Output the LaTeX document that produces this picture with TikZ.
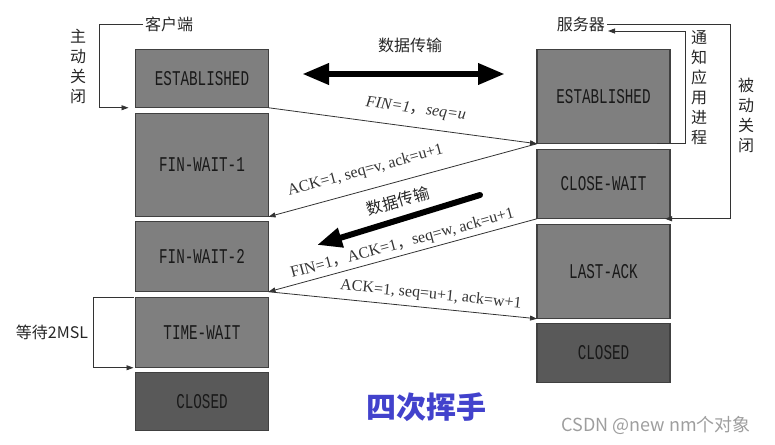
\documentclass[tikz,border=0pt]{standalone}
\usepackage{fontspec}
\usetikzlibrary{arrows.meta,positioning}
\newfontfamily\cjk{Noto Sans CJK SC}
\newfontfamily\boxfont{Liberation Mono}[FakeStretch=0.68]
\newfontfamily\msgfont{Liberation Serif}
\definecolor{boxgray}{RGB}{127,127,127}
\definecolor{boxdark}{RGB}{89,89,89}
\definecolor{boxedge}{RGB}{64,64,64}
\definecolor{titleblue}{RGB}{66,66,204}
\tikzset{
  state/.style={draw=boxedge, fill=boxgray, line width=1.2pt, minimum width=133pt,
    inner sep=0pt, outer sep=0pt, text=black!90, font=\boxfont\fontsize{21}{21}\selectfont},
  closed/.style={state, fill=boxdark},
  conn/.style={draw=black!80, line width=0.8pt, -{Triangle[length=7pt,width=5pt]}},
  msg/.style={text=black!80, font=\msgfont\fontsize{16}{16}\selectfont},
  cn/.style={text=black!85, font=\cjk\fontsize{16}{16}\selectfont},
  vtext/.style={cn, align=center, font=\cjk\fontsize{16}{20}\selectfont},
  bigarrow/.style={line width=6.5pt, {Triangle[length=27pt,width=20pt]}-{Triangle[length=27pt,width=20pt]}}
}
\begin{document}
\begin{tikzpicture}[x=1pt,y=-1pt]
  \useasboundingbox (0,0) rectangle (775,444);

  % client
  \node[state, minimum height=58.5pt] (cest) at (202,78.5) {ESTABLISHED};
  \node[state, minimum height=103.5pt] (cfw1) at (202,165) {FIN-WAIT-1};
  \node[state, minimum height=70.5pt] (cfw2) at (202,256.5) {FIN-WAIT-2};
  \node[state, minimum height=70.5pt] (ctw) at (202,332.5) {TIME-WAIT};
  \node[closed, minimum height=58.5pt] (ccl) at (202,401.5) {CLOSED};

  % server
  \node[state, minimum height=94.5pt] (sest) at (603.5,96.5) {ESTABLISHED};
  \node[state, minimum height=69.5pt] (scw) at (603.5,184) {CLOSE-WAIT};
  \node[state, minimum height=94.5pt] (sla) at (603.5,271.5) {LAST-ACK};
  \node[closed, minimum height=59.5pt] (scl) at (603.5,353) {CLOSED};

  % messages
  \draw[conn] (cest.south east) -- node[msg, sloped, above=7pt, pos=0.54] (m1) {\textit{FIN=1}{\cjk ，}\textit{seq=u}} (sest.south west);
  \draw[conn] (sest.south west) -- node[msg, sloped, above=8pt, pos=0.62] (m2) {ACK=1, seq=v, ack=u+1} (cfw1.south east);
  \draw[conn] (scw.south west) -- node[msg, sloped, above, pos=0.49] (m3) {FIN=1{\cjk ，}ACK=1{\cjk ，}seq=w, ack=u+1} (cfw2.south east);
  \draw[conn] (cfw2.south east) -- node[msg, sloped, above=2pt, pos=0.6] (m4) {ACK=1, seq=u+1, ack=w+1} (sla.south west);

  % data transfer
  \coordinate (dl) at (302,74);
  \coordinate (dr) at (505,74);
  \draw[bigarrow] (dl) -- (dr);
  \node[cn] (data1) at (410,45) {数据传输};
  \coordinate (ds) at (480,195);
  \coordinate (de) at (317,245);
  \draw[line width=6pt, line cap=round, -{Triangle[length=25pt,width=19pt]}] (ds) -- (de);
  \node[cn, rotate=16] (data2) at (398,201) {数据传输};

  % client close
  \node[cn, anchor=west, inner sep=2pt] (cli) at (143,24) {客户端};
  \draw[conn] (cli.west) -- ++(-44,0) |- ([xshift=-7pt]cest.south west);
  \node[vtext] (active) at (78,66) {主\\动\\关\\闭};
  \node[cn] (wait) at (52,332) {等待2MSL};
  \draw[conn] ([xshift=-2pt]ctw.north west) -- ++(-40,0) |- ([xshift=-2pt]ctw.south west);

  % server close
  \node[cn, anchor=east, inner sep=2pt] (srv) at (607,24) {服务器};
  \coordinate (srvin) at (608,31);
  \draw[conn] ([xshift=-13pt]sest.south east) -- ++(28,0) |- (srvin);
  \node[vtext] (notify) at (699,88) {通\\知\\应\\用\\进\\程};
  \draw[conn] (srv.east) -- ++(123,0) |- ([xshift=-5pt]scw.south east);
  \node[vtext] (passive) at (746,115) {被\\动\\关\\闭};

  \node[text=titleblue, font=\cjk\bfseries\fontsize{30}{30}\selectfont] (title) at (426,407) {四次挥手};
  \node[text=black!38, font=\cjk\fontsize{18}{18}\selectfont] (mark) at (656,425) {CSDN @new nm个对象};
\end{tikzpicture}
\end{document}
